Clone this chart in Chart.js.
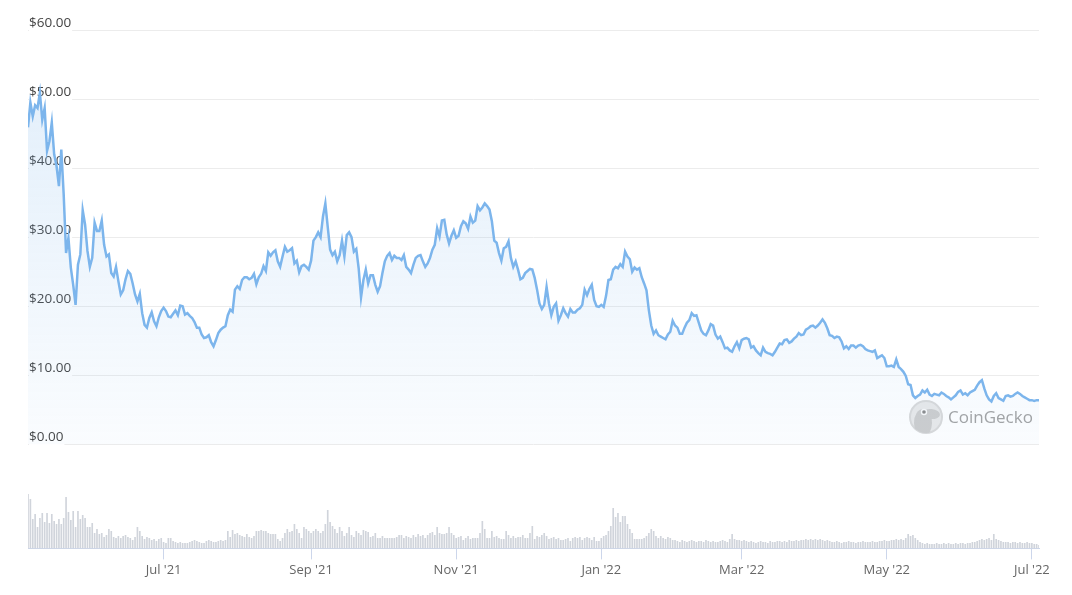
<!DOCTYPE html>
<html>
<head>
<meta charset="utf-8">
<script src="https://cdn.jsdelivr.net/npm/chart.js@4.4.0/dist/chart.umd.min.js"></script>
<style>
  html, body { margin: 0; padding: 0; background: #fff; }
  #wrap { width: 1072px; height: 595px; }
</style>
</head>
<body>
<div id="wrap"><canvas id="chart" width="1072" height="595"></canvas></div>
<script>
// daily close, USD, from 5 May 2021 (day 0) to 5 Jul 2022 (day 425)
const prices = [
  45.9, 49.5, 47.5, 49.1, 48.7, 50.9, 47.0, 48.7, 42.5, 43.9,
  46.6, 42.0, 40.3, 37.4, 42.7, 36.2, 27.7, 29.9, 25.6, 23.1,
  20.2, 26.0, 27.5, 33.9, 31.8, 28.0, 25.7, 27.0, 32.1, 30.9,
  30.9, 32.4, 28.9, 27.2, 27.5, 24.8, 24.3, 25.7, 23.6, 21.7,
  22.3, 23.9, 25.1, 24.7, 23.3, 21.7, 20.7, 21.8, 19.0, 17.3,
  16.9, 18.3, 19.1, 17.8, 17.1, 18.4, 19.3, 19.8, 19.3, 18.5,
  18.4, 18.9, 19.4, 18.7, 20.1, 20.0, 18.8, 19.0, 18.6, 18.3,
  17.7, 16.9, 16.9, 15.9, 15.4, 15.5, 15.8, 14.8, 14.2, 15.1,
  16.1, 16.6, 16.9, 17.1, 18.7, 19.5, 19.2, 22.4, 22.9, 22.5,
  23.8, 24.2, 24.2, 23.9, 24.1, 24.7, 23.2, 24.2, 24.7, 25.8,
  25.1, 27.8, 27.3, 27.8, 28.1, 26.5, 25.7, 27.2, 28.6, 27.9,
  28.1, 28.4, 26.2, 26.6, 24.9, 25.8, 26.0, 25.7, 25.3, 26.6,
  29.5, 30.0, 30.7, 30.0, 33.0, 34.9, 31.5, 28.2, 27.4, 27.9,
  26.5, 27.4, 29.5, 27.2, 30.3, 30.7, 30.0, 27.9, 28.3, 25.5,
  21.3, 23.8, 25.3, 23.3, 24.5, 24.5, 23.1, 22.1, 22.9, 24.8,
  26.5, 27.3, 27.7, 26.7, 27.3, 27.0, 27.0, 26.7, 27.4, 25.7,
  25.3, 24.8, 26.0, 27.0, 27.3, 27.4, 26.5, 25.7, 26.2, 27.0,
  28.2, 28.9, 31.3, 30.1, 32.4, 32.5, 30.4, 29.1, 30.2, 31.0,
  29.9, 30.2, 31.6, 32.3, 32.0, 31.2, 33.0, 32.1, 32.4, 34.5,
  33.9, 34.3, 34.9, 34.5, 34.0, 32.3, 29.5, 29.2, 27.7, 26.6,
  28.4, 28.6, 29.4, 27.0, 25.7, 26.5, 25.3, 23.9, 24.1, 24.8,
  25.1, 25.4, 25.3, 24.1, 22.4, 20.4, 19.6, 20.2, 22.8, 20.4,
  18.7, 19.9, 20.4, 17.9, 18.7, 19.7, 19.0, 18.5, 19.6, 19.1,
  19.1, 19.5, 19.7, 20.2, 22.4, 21.6, 22.5, 23.1, 20.9, 20.0,
  19.9, 20.2, 19.9, 21.5, 23.8, 23.9, 25.3, 25.7, 25.5, 26.1,
  25.7, 27.9, 27.2, 26.8, 25.0, 25.6, 25.3, 25.5, 24.2, 23.3,
  22.3, 19.4, 17.2, 16.0, 16.5, 15.8, 15.6, 15.4, 15.2, 15.9,
  16.3, 17.9, 17.2, 16.9, 16.0, 16.0, 16.9, 17.6, 18.0, 19.0,
  18.6, 18.7, 17.6, 16.5, 16.0, 15.8, 16.5, 17.4, 17.2, 15.9,
  15.3, 15.6, 14.8, 13.9, 14.0, 13.6, 13.4, 14.2, 14.8, 13.9,
  15.1, 15.3, 15.4, 15.2, 14.0, 14.2, 13.6, 13.2, 12.9, 14.0,
  13.4, 13.2, 13.1, 12.9, 13.4, 14.0, 14.6, 14.5, 15.1, 15.2,
  14.7, 14.9, 15.3, 15.6, 16.1, 15.8, 15.9, 16.6, 16.8, 17.1,
  17.2, 16.9, 17.2, 17.6, 18.1, 17.6, 16.8, 15.8, 15.7, 15.4,
  15.6, 15.5, 14.9, 13.9, 14.2, 13.8, 14.3, 14.3, 14.0, 14.3,
  14.4, 14.2, 13.8, 13.6, 13.5, 13.4, 13.6, 12.5, 12.7, 12.9,
  12.5, 11.3, 11.3, 11.4, 11.2, 12.3, 11.2, 10.9, 10.5, 9.9,
  8.7, 8.6, 7.1, 6.7, 7.0, 7.2, 7.8, 7.5, 7.9, 7.2,
  7.0, 7.3, 7.2, 7.1, 7.5, 7.3, 7.0, 6.8, 6.5, 6.8,
  7.1, 7.6, 7.8, 7.2, 7.4, 7.1, 7.5, 7.7, 7.9, 8.5,
  9.0, 9.3, 8.1, 7.1, 6.5, 6.2, 7.0, 7.4, 6.7, 6.5,
  6.3, 7.0, 7.1, 6.9, 7.0, 7.3, 7.5, 7.3, 7.0, 6.8,
  6.6, 6.4, 6.4, 6.3, 6.4, 6.4
];

// daily volume, millions USD
const volumes = [
  54, 49, 29, 34, 21, 30, 35, 26, 35, 25, 34, 27, 24, 29, 24, 30,
  51, 36, 28, 37, 21, 37, 29, 33, 30, 21, 21, 25, 15, 19, 14,
  15, 11, 13, 19, 17, 11, 10, 12, 10, 12, 13, 11, 10, 8, 11, 21, 17, 12, 9, 11, 10, 8, 9, 7, 9, 10, 6, 5, 10, 10,
  7, 6, 5, 6, 5, 5, 5, 6, 7, 8, 7, 6, 5, 5, 7, 8, 7, 6, 6, 7, 8, 7, 8,
  17, 11, 18, 14, 15, 13, 12, 11, 14, 11, 10, 12, 17, 17, 18, 17, 17,
  15, 14, 14, 14, 9, 7, 10, 15, 19, 16, 17, 24, 19, 15, 10, 21, 19, 17,
  15, 17, 19, 17, 15, 17, 24, 38, 26, 22, 19, 15, 21, 17, 12, 15, 21, 13, 11, 17, 15, 13,
  18, 17, 16, 11, 12, 15, 10, 10, 12, 10, 10, 10, 10, 10, 11, 13, 13, 10, 12, 11, 10, 13, 11, 14, 12, 13, 10, 13, 15, 16,
  13, 21, 15, 14, 14, 15, 21, 15, 13, 10, 11, 12, 8, 10, 12, 9, 10, 10, 10, 15,
  27, 19, 10, 10, 17, 11, 12, 10, 9, 9, 17, 13, 10, 12, 10, 11, 11, 13, 10, 10,
  15, 22, 9, 12, 11, 13, 15, 12, 9, 10, 11, 9, 10, 8, 8, 9, 10, 7, 10, 11, 10, 11, 8, 10, 11, 10, 8, 11, 7, 7,
  10, 12, 13, 17, 22, 40, 31, 35, 26, 32, 32, 24, 19, 15, 9,
  9, 9, 9, 10, 12, 15, 19, 17, 12, 10, 12, 10, 9, 11, 10, 8, 8,
  7, 6, 8, 7, 6, 7, 8, 7, 6, 7, 7, 6, 8, 7, 6, 7, 6, 6, 7, 8, 7, 6, 9, 14, 9, 8, 8, 7,
  8, 7, 6, 7, 6, 5, 6, 7, 6, 6, 5, 7, 6, 6, 7, 7, 6, 7, 6, 8, 7, 7, 8, 7, 8, 8, 9, 8, 9, 8,
  9, 8, 9, 8, 7, 8, 7, 6, 6, 7, 6, 5, 6, 6, 7, 6, 6, 5, 6, 6, 7, 6, 6, 6, 7, 6, 6, 7, 7, 8,
  7, 7, 8, 8, 9, 8, 9, 8, 10, 14, 12, 13, 10, 8, 6, 5, 4, 5, 4, 4,
  4, 5, 4, 4, 5, 4, 5, 4, 4, 5, 4, 5, 5, 4, 5, 5, 6, 6, 7, 8,
  9, 8, 9, 10, 8, 14, 9, 8, 7, 6,
  6, 6, 5, 6, 6, 5, 6, 5, 5, 6, 5, 5, 4, 4, 3
];

const tickDays = [57, 119, 180, 241, 300, 361, 422];
const tickLabels = ["Jul '21", "Sep '21", "Nov '21", "Jan '22", "Mar '22", "May '22", "Jul '22"];
const priceTicks = [0, 10, 20, 30, 40, 50, 60];

const FONT = "'Open Sans', 'Liberation Sans', sans-serif";

const watermark = {
  id: 'watermark',
  beforeDatasetsDraw(chart) {
    const ctx = chart.ctx;
    const cx = 926, cy = 417, r = 16;
    ctx.save();
    ctx.beginPath();
    ctx.arc(cx, cy, r, 0, Math.PI * 2);
    ctx.fillStyle = '#e9e9e9';
    ctx.fill();
    ctx.lineWidth = 2;
    ctx.strokeStyle = '#d9d9d9';
    ctx.stroke();
    ctx.clip();
    // gecko head
    ctx.fillStyle = '#cdcdcd';
    ctx.beginPath();
    ctx.ellipse(cx - 3, cy + 6, 9, 14, 0, 0, Math.PI * 2);
    ctx.fill();
    ctx.beginPath();
    ctx.ellipse(cx + 5, cy - 3, 9, 5, 0.1, 0, Math.PI * 2);
    ctx.fill();
    ctx.fillStyle = '#fafafa';
    ctx.beginPath();
    ctx.arc(cx - 2, cy - 5, 3.2, 0, Math.PI * 2);
    ctx.fill();
    ctx.fillStyle = '#8a8a8a';
    ctx.beginPath();
    ctx.arc(cx - 2, cy - 5, 1.8, 0, Math.PI * 2);
    ctx.fill();
    ctx.restore();

    ctx.save();
    ctx.font = '17px ' + FONT;
    ctx.fillStyle = '#a3a3a3';
    ctx.textBaseline = 'middle';
    ctx.fillText('CoinGecko', 948, cy + 1);
    ctx.restore();
  }
};

const ctx = document.getElementById('chart').getContext('2d');

new Chart(ctx, {
  type: 'line',
  data: {
    datasets: [
      {
        type: 'line',
        label: 'Price',
        data: prices.map((p, i) => ({ x: i, y: p })),
        yAxisID: 'y',
        borderColor: '#7cb5ec',
        borderWidth: 2.5,
        pointRadius: 0,
        tension: 0,
        fill: 'origin',
        backgroundColor: (c) => {
          const area = c.chart.chartArea;
          if (!area) return 'rgba(124,181,236,0.1)';
          const g = c.chart.ctx.createLinearGradient(0, area.top, 0, c.chart.scales.y.getPixelForValue(0));
          g.addColorStop(0, 'rgba(124,181,236,0.24)');
          g.addColorStop(1, 'rgba(124,181,236,0.04)');
          return g;
        },
        order: 1
      },
      {
        type: 'bar',
        label: 'Volume',
        data: volumes.map((v, i) => ({ x: i, y: v })),
        yAxisID: 'y2',
        backgroundColor: '#d0d4db',
        barThickness: 1,
        order: 2
      }
    ]
  },
  options: {
    responsive: false,
    animation: false,
    devicePixelRatio: 1,
    layout: { padding: { left: 26, right: 33, top: 30, bottom: 14 } },
    plugins: {
      legend: { display: false },
      tooltip: { enabled: false }
    },
    scales: {
      x: {
        type: 'linear',
        min: 0,
        max: prices.length - 1,
        offset: false,
        afterBuildTicks: (scale) => {
          scale.ticks = tickDays.map(v => ({ value: v }));
        },
        ticks: {
          autoSkip: false,
          maxRotation: 0,
          padding: 3,
          color: '#666',
          font: { family: FONT, size: 13 },
          callback: (v) => tickLabels[tickDays.indexOf(v)]
        },
        grid: {
          offset: false,
          drawOnChartArea: false,
          drawTicks: true,
          tickLength: 11,
          color: '#ccd6eb',
          tickColor: '#ccd6eb'
        },
        border: { display: true, color: '#ccd6eb' }
      },
      y: {
        type: 'linear',
        position: 'left',
        min: -15.07,
        max: 60,
        afterBuildTicks: (scale) => {
          scale.ticks = priceTicks.map(v => ({ value: v }));
        },
        ticks: {
          mirror: true,
          padding: 1,
          labelOffset: -7,
          color: '#444',
          font: { family: FONT, size: 13.5 },
          showLabelBackdrop: true,
          backdropColor: '#ffffff',
          backdropPadding: { top: 0, bottom: 2, left: 0, right: 1 },
          callback: (v) => '$' + Number(v).toFixed(2)
        },
        grid: { color: '#ececec', drawTicks: false },
        border: { display: false }
      },
      y2: {
        type: 'linear',
        display: false,
        min: 0,
        max: 518
      }
    }
  },
  plugins: [watermark]
});
</script>
</body>
</html>
